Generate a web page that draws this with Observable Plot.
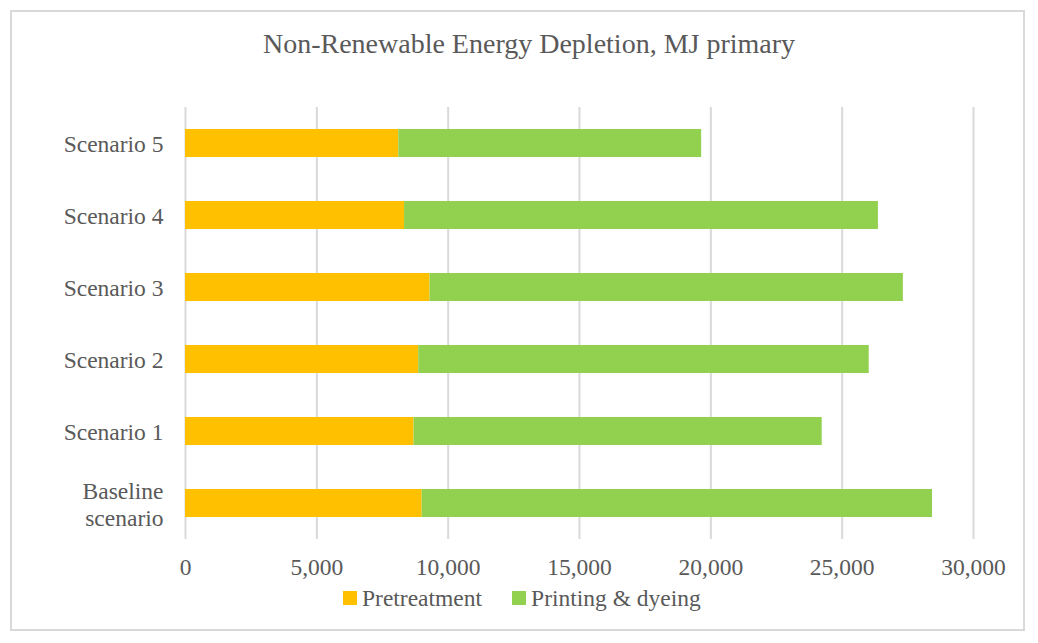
<!DOCTYPE html>
<html>
<head>
<meta charset="utf-8">
<script src="https://cdn.jsdelivr.net/npm/d3@7"></script>
<script src="https://cdn.jsdelivr.net/npm/@observablehq/plot@0.6"></script>
<style>
  html, body { margin: 0; padding: 0; background: #fff; }
  #page { position: relative; width: 1038px; height: 643px; font-family: "Liberation Serif", "Times New Roman", serif; color: #595959; }
  #frame { position: absolute; left: 10px; top: 10px; width: 1015px; height: 621px; border: 2px solid #d9d9d9; box-sizing: border-box; pointer-events: none; }
  #title { position: absolute; left: 0; width: 1058px; top: 27px; text-align: center; font-size: 28px; line-height: 34px; white-space: nowrap; }
  #chart { position: absolute; left: 0; top: 80px; }
  #legend { position: absolute; left: 343px; top: 584px; display: flex; align-items: center; font-size: 23.5px; line-height: 28px; white-space: nowrap; }
  .sw { display: inline-block; width: 14px; height: 14px; margin-right: 5px; }
  .item { display: flex; align-items: center; margin-right: 30px; }
</style>
</head>
<body>
<div id="page">
  <div id="title">Non-Renewable Energy Depletion, MJ primary</div>
  <div id="chart"></div>
  <div id="legend"></div>
  <div id="frame"></div>
</div>
<script>
const scenarios = ["Baseline scenario", "Scenario 1", "Scenario 2", "Scenario 3", "Scenario 4", "Scenario 5"];
const pretreatment = [9010, 8700, 8880, 9310, 8340, 8120];
const printingDyeing = [19430, 15540, 17150, 18020, 18040, 11530];
const seriesNames = ["Pretreatment", "Printing & dyeing"];
const seriesColors = ["#FFC000", "#92D050"];
const xTicks = [0, 5000, 10000, 15000, 20000, 25000, 30000];

const rows = [];
scenarios.forEach((s, i) => {
  rows.push({scenario: s, series: seriesNames[0], value: pretreatment[i]});
  rows.push({scenario: s, series: seriesNames[1], value: printingDyeing[i]});
});

const yOrder = scenarios.slice().reverse();

const chart = Plot.plot({
  width: 1038,
  height: 510,
  marginLeft: 185,
  marginRight: 65,
  marginTop: 27,
  marginBottom: 51,
  style: {background: "transparent", fontFamily: "'Liberation Serif', 'Times New Roman', serif", fontSize: "23.5px", color: "#595959"},
  x: {domain: [0, 30000], ticks: xTicks},
  y: {domain: yOrder, paddingInner: 0.61, paddingOuter: 0.305},
  color: {domain: seriesNames, range: seriesColors},
  marks: [
    Plot.gridX(xTicks, {stroke: "#d9d9d9", strokeOpacity: 1, strokeWidth: 2}),
    Plot.barX(rows, Plot.stackX({x: "value", y: "scenario", fill: "series", order: seriesNames})),
    Plot.axisX(xTicks, {tickSize: 0, tickPadding: 19, tickFormat: d3.format(","), fill: "#595959", label: null}),
    Plot.axisY({tickSize: 0, tickPadding: 22, lineHeight: 1.18, fill: "#595959", label: null,
      tickFormat: d => d === "Baseline scenario" ? "Baseline\nscenario" : d})
  ]
});
document.getElementById("chart").appendChild(chart);

const legend = document.getElementById("legend");
seriesNames.forEach((name, i) => {
  const item = document.createElement("div");
  item.className = "item";
  const sw = document.createElement("span");
  sw.className = "sw";
  sw.style.background = seriesColors[i];
  const t = document.createElement("span");
  t.textContent = name;
  item.appendChild(sw);
  item.appendChild(t);
  legend.appendChild(item);
});
</script>
</body>
</html>
